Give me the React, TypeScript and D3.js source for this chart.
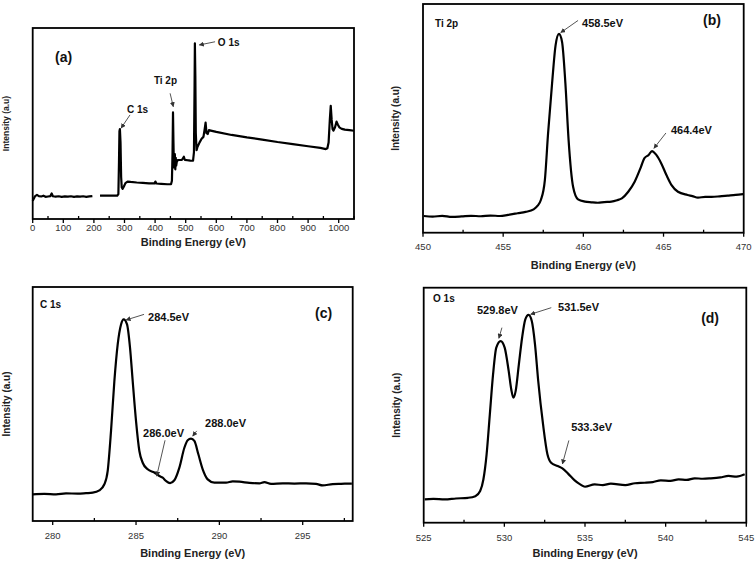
import React from "react";
import * as d3 from "d3";

// ---------- DATA (binding energy eV, intensity a.u. 0-100) ----------
const surveyLow: [number, number][] = [
  [0, 9.5], [3, 10.5], [8, 12.0], [14, 12.6], [20, 12.0], [28, 11.8], [35, 12.2], [42, 11.6],
  [50, 11.8], [58, 12.0], [62, 13.4], [66, 11.9], [75, 11.7], [85, 11.9], [95, 11.6], [105, 11.8],
  [115, 11.7], [125, 11.9], [135, 11.6], [145, 11.8], [155, 11.7], [165, 11.9], [175, 11.6],
  [185, 11.8], [195, 12.0],
];
const surveyHigh: [number, number][] = [
  [220, 12.2], [240, 12.2], [260, 12.3], [276, 12.2], [280, 13], [282, 30], [283.5, 46], [285, 47.1],
  [287, 40], [289, 22], [291, 16.5], [294, 15.8], [298, 17], [303, 18.8], [310, 19.6], [320, 19.4],
  [340, 19.1], [360, 18.9], [380, 18.7], [398, 18.6], [401, 19.6], [404, 18.6], [420, 18.4],
  [440, 18.2], [452, 18.2], [455, 20], [457, 35], [458.5, 55.8], [460, 40], [461.5, 27], [463, 30],
  [464.5, 34], [466, 26], [467.5, 32], [469, 28], [471, 30], [474, 30.8], [480, 30.9], [488, 31],
  [494, 32.6], [497, 31], [505, 30.8], [515, 30.6], [524, 30.5], [527, 35], [529, 70], [530, 92],
  [531.5, 75], [533, 45], [535.5, 36], [538, 37.5], [545, 40], [552, 42], [558, 43], [562, 47],
  [565, 50.5], [568, 45], [572, 44.5], [576, 46.5], [582, 46.3], [600, 45.6], [650, 44], [700, 42.7],
  [750, 41.6], [800, 40.3], [850, 39.2], [900, 38.1], [940, 37.2], [958, 36.6], [963, 37], [967, 40],
  [971, 52], [974, 59.2], [977, 52], [980, 47], [983, 46.3], [988, 48], [993, 51], [997, 49.5],
  [1002, 48], [1010, 47.2], [1020, 46.8], [1035, 46.5], [1050, 46.2],
];
const ti2p: [number, number][] = [
  [450.05, 7.3], [450.6, 7.0], [451.2, 7.4], [451.8, 6.9], [452.4, 7.1], [453.0, 7.4], [453.6, 7.2],
  [454.2, 7.5], [454.8, 7.3], [455.3, 7.8], [455.9, 8.5], [456.4, 9.1], [456.9, 10.2], [457.15, 11.8],
  [457.35, 14.3], [457.6, 23], [457.8, 43.4], [458.05, 65.3], [458.27, 82], [458.48, 86.9],
  [458.67, 83.5], [458.88, 65.3], [459.08, 40.5], [459.36, 20.1], [459.67, 14.6], [460.1, 13.6],
  [460.5, 13.3], [460.9, 13.1], [461.3, 13.4], [461.75, 13.6], [462.1, 14.2], [462.4, 15], [462.8, 17.9],
  [463.2, 22.3], [463.6, 28.9], [463.8, 32.5], [464.07, 34], [464.28, 35.7], [464.55, 34],
  [464.86, 30.3], [465.18, 25.2], [465.5, 20.8], [465.9, 17.9], [466.5, 16.5], [466.8, 16.0],
  [467.15, 15.3], [467.6, 15.7], [468.0, 15.7], [468.5, 15.9], [469.0, 16.2], [469.5, 16.5],
  [469.96, 16.9],
];
const c1s: [number, number][] = [
  [278.8, 11.4], [279.5, 11.6], [280.2, 11.4], [280.8, 11.8], [281.5, 11.7], [282.0, 11.9],
  [282.4, 12.1], [282.8, 13.1], [283.1, 15.7], [283.3, 21.4], [283.5, 38.5], [283.7, 59.8],
  [283.9, 75.5], [284.1, 84], [284.26, 86.2], [284.46, 84], [284.64, 74], [284.8, 59.8], [285.0, 42.7],
  [285.2, 29.9], [285.4, 24.9], [285.7, 22.1], [286.1, 20.7], [286.4, 19.2], [286.6, 18.5],
  [286.8, 17.1], [287.04, 16.2], [287.3, 17.4], [287.6, 22.8], [287.9, 31.3], [288.1, 34.5],
  [288.3, 35.2], [288.5, 34.2], [288.74, 28.5], [289.0, 22.1], [289.3, 17.8], [289.7, 16.4],
  [290.4, 16.4], [290.8, 16.9], [291.2, 16.8], [291.8, 16.3], [292.4, 16.1], [292.7, 16.6],
  [293.1, 15.9], [293.8, 16.1], [294.5, 16.0], [295.2, 16.1], [295.8, 15.9], [296.2, 15.2],
  [296.8, 15.8], [297.3, 15.9], [297.95, 16.0],
];
const o1s: [number, number][] = [
  [525.06, 9.9], [525.6, 10.1], [526.3, 9.9], [527.0, 10.3], [527.75, 10.6], [528.2, 11.3],
  [528.5, 13.5], [528.7, 18.4], [528.9, 29.1], [529.1, 46.1], [529.3, 63.1], [529.5, 74.5],
  [529.77, 77.3], [530.02, 74.5], [530.27, 64.5], [530.43, 56.7], [530.56, 53.2], [530.7, 56],
  [530.9, 67.4], [531.1, 78.7], [531.3, 86.5], [531.5, 88.4], [531.7, 85.8], [531.9, 75.9],
  [532.1, 60.3], [532.4, 41.8], [532.67, 29.1], [532.9, 25.5], [533.3, 24.1], [533.6, 23.1],
  [533.95, 20.9], [534.36, 18], [534.7, 16.3], [535.0, 15.3], [535.6, 16.3], [536.1, 16.0],
  [536.6, 16.6], [537.5, 16.0], [538.1, 16.8], [538.7, 17.0], [539.2, 17.3], [539.7, 18.0],
  [540.3, 17.8], [540.8, 18.4], [541.3, 18.2], [541.8, 18.9], [542.3, 18.7], [542.8, 18.9],
  [543.4, 19.3], [543.9, 19.9], [544.4, 19.6], [544.9, 20.6],
];

// Tick values
const ticksA = [0, 100, 200, 300, 400, 500, 600, 700, 800, 900, 1000];
const minorA = [50, 150, 250, 350, 450, 550, 650, 750, 850, 950, 1050];
const ticksB = [450, 455, 460, 465, 470];
const minorB = [452.5, 457.5, 462.5, 467.5];
const ticksC = [280, 285, 290, 295];
const minorC = [282.5, 287.5, 292.5, 297.5];
const ticksD = [525, 530, 535, 540, 545];
const minorD = [527.5, 532.5, 537.5, 542.5];

// Annotations: [label, textE, textI, arrowFromE, arrowFromI, arrowToE, arrowToI]
type Ann = { t: string; x: number; y: number; a?: [number, number, number, number]; big?: boolean };
const annA: Ann[] = [
  { t: "(a)", x: 72.9, y: 84.3, big: true },
  { t: "C 1s", x: 308, y: 57.1, a: [318, 54.5, 289, 47.6] },
  { t: "Ti 2p", x: 396, y: 71.9, a: [449, 65.8, 459.5, 58.8] },
  { t: "O 1s", x: 605, y: 92, a: [596, 92.8, 544.5, 91.1] },
];
const annB: Ann[] = [
  { t: "Ti 2p", x: 450.75, y: 91.3 },
  { t: "458.5eV", x: 459.92, y: 91.3, a: [459.67, 92.8, 458.59, 87.5] },
  { t: "(b)", x: 467.46, y: 92.3, big: true },
  { t: "464.4eV", x: 465.46, y: 44.6, a: [465.15, 43.6, 464.4, 36.9] },
];
const annC: Ann[] = [
  { t: "C 1s", x: 279.24, y: 92.3 },
  { t: "284.5eV", x: 285.72, y: 86.9, a: [285.48, 88.3, 284.4, 85.9] },
  { t: "(c)", x: 295.74, y: 88.3, big: true },
  { t: "286.0eV", x: 285.42, y: 37, a: [286.74, 34.5, 286.24, 19.2] },
  { t: "288.0eV", x: 289.14, y: 41.3, a: [288.64, 38.5, 288.4, 36.3] },
];
const annD: Ann[] = [
  { t: "O 1s", x: 525.58, y: 95.1 },
  { t: "529.8eV", x: 528.3, y: 90.1, a: [529.85, 83, 529.66, 78.5] },
  { t: "531.5eV", x: 533.33, y: 91.5, a: [532.91, 91.5, 531.63, 88.7] },
  { t: "(d)", x: 542.2, y: 86.6, big: true },
  { t: "533.3eV", x: 534.14, y: 40.4, a: [534.0, 35, 533.6, 25] },
];

const FONT = "'Liberation Sans', Arial, Helvetica, sans-serif";

type PanelProps = {
  left: number; right: number; top: number; bottom: number;
  domain: [number, number];
  series: [number, number][][];
  ticks: number[]; minor: number[];
  anns: Ann[];
  tickY: number; titleY: number; yTitleX: number; yTitleSize: number;
  smooth: boolean;
};

function Panel(p: PanelProps) {
  const x = d3.scaleLinear().domain(p.domain).range([p.left, p.right]);
  const y = d3.scaleLinear().domain([0, 100]).range([p.bottom, p.top]);
  const line = d3
    .line<[number, number]>()
    .x((d) => x(d[0]))
    .y((d) => y(d[1]))
    .curve(p.smooth ? d3.curveMonotoneX : d3.curveLinear);
  const cx = (p.left + p.right) / 2;
  const cy = (p.top + p.bottom) / 2;
  return (
    <g>
      {p.series.map((s, i) => (
        <path key={i} d={line(s) || ""} fill="none" stroke="#000" strokeWidth={2.2} strokeLinejoin="round" />
      ))}
      <rect x={p.left} y={p.top} width={p.right - p.left} height={p.bottom - p.top} fill="none" stroke="#000" strokeWidth={1.8} />
      {p.ticks.map((t) => (
        <g key={"t" + t}>
          <line x1={x(t)} x2={x(t)} y1={p.bottom} y2={p.bottom + 4} stroke="#000" strokeWidth={1.3} />
          <text x={x(t)} y={p.tickY} textAnchor="middle" dominantBaseline="middle" fontSize={9.5} fill="#333" fontFamily={FONT}>
            {t}
          </text>
        </g>
      ))}
      {p.minor.map((t) => (
        <line key={"m" + t} x1={x(t)} x2={x(t)} y1={p.bottom} y2={p.bottom - 3} stroke="#000" strokeWidth={1.3} />
      ))}
      <text x={cx} y={p.titleY} textAnchor="middle" dominantBaseline="middle" fontSize={11} fontWeight="bold" fontFamily={FONT} fill="#222">
        Binding Energy (eV)
      </text>
      <text
        transform={`translate(${p.yTitleX},${cy}) rotate(-90)`}
        textAnchor="middle"
        dominantBaseline="middle"
        fontSize={p.yTitleSize}
        fontWeight="bold"
        fontFamily={FONT}
        fill="#222"
      >
        Intensity (a.u)
      </text>
      {p.anns.map((a, i) => (
        <g key={"a" + i}>
          <text x={x(a.x)} y={y(a.y)} dominantBaseline="middle" fontSize={a.big ? 14 : a.t.includes("eV") ? 11 : 10} fontWeight="bold" fontFamily={FONT} fill="#111">
            {a.t}
          </text>
          {a.a && (
            <line
              x1={x(a.a[0])}
              y1={y(a.a[1])}
              x2={x(a.a[2])}
              y2={y(a.a[3])}
              stroke="#555"
              strokeWidth={1}
              markerEnd="url(#arrowHead)"
            />
          )}
        </g>
      ))}
    </g>
  );
}

export default function App() {
  return (
    <svg width={756} height={562} style={{ position: "absolute", left: 0, top: 0, background: "#fff" }}>
      <defs>
        <marker id="arrowHead" viewBox="0 0 10 10" refX="9" refY="5" markerWidth="5" markerHeight="5" orient="auto-start-reverse">
          <path d="M0,0 L10,5 L0,10 z" fill="#333" />
        </marker>
      </defs>
      <rect x={0} y={0} width={756} height={562} fill="#fff" />
      <Panel left={32.7} right={354} top={28} bottom={219} domain={[0, 1050]} series={[surveyLow, surveyHigh]}
        ticks={ticksA} minor={minorA} anns={annA} tickY={228.5} titleY={243} yTitleX={7} yTitleSize={8.5} smooth={false} />
      <Panel left={423} right={743.7} top={4} bottom={232.7} domain={[450, 470]} series={[ti2p]}
        ticks={ticksB} minor={minorB} anns={annB} tickY={247} titleY={266.5} yTitleX={396} yTitleSize={10} smooth={true} />
      <Panel left={32.7} right={352.7} top={287} bottom={521} domain={[278.8, 298]} series={[c1s]}
        ticks={ticksC} minor={minorC} anns={annC} tickY={536} titleY={554.5} yTitleX={7} yTitleSize={10} smooth={true} />
      <Panel left={423.7} right={746.3} top={287.7} bottom={522.7} domain={[525, 545]} series={[o1s]}
        ticks={ticksD} minor={minorD} anns={annD} tickY={538.5} titleY={554.5} yTitleX={397} yTitleSize={10} smooth={true} />
    </svg>
  );
}
